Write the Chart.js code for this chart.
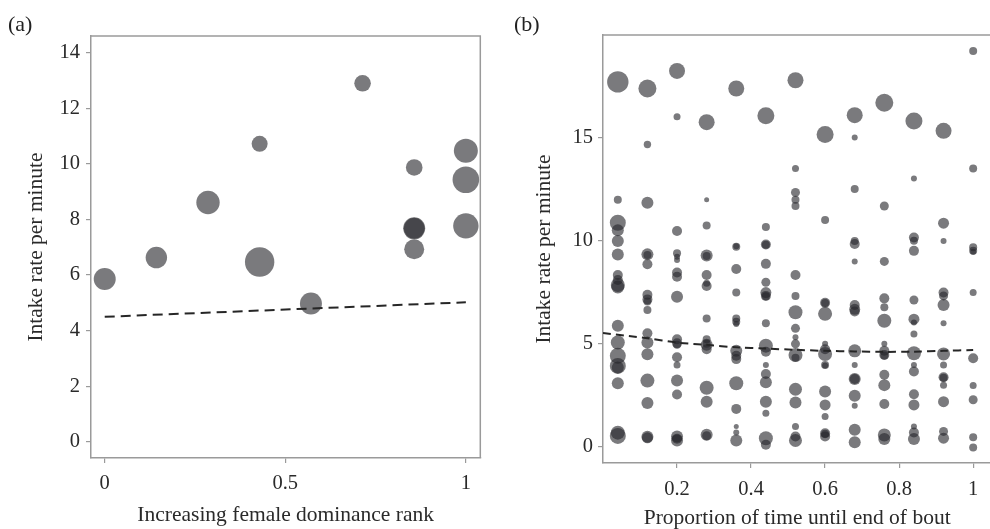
<!DOCTYPE html>
<html>
<head>
<meta charset="utf-8">
<script src="https://cdn.jsdelivr.net/npm/chart.js@4.4.0/dist/chart.umd.min.js"></script>
<style>
    body { margin: 0; background: #fff; width: 990px; height: 529px; position: relative; overflow: hidden; font-family: "Liberation Serif", serif; }
    .panel { position: absolute; top: 0; width: 495px; height: 529px; }
    .tag { position: absolute; font-size: 22px; color: #222; line-height: 1; }
</style>
</head>
<body>
<div class="panel" style="left:0"><canvas id="chartA"></canvas></div>
<div class="panel" style="left:495px;width:507px"><canvas id="chartB"></canvas></div>
<div class="tag" style="left:8px;top:13px">(a)</div>
<div class="tag" style="left:514px;top:13px">(b)</div>
<script>
// ---- panel (a): intake rate vs female dominance rank ----
const aRank = [0, 0.143, 0.286, 0.429, 0.429, 0.571, 0.714, 0.857, 0.857, 0.857, 0.857, 1, 1, 1];
const aRate = [5.86, 6.63, 8.61, 10.72, 6.47, 4.98, 12.9, 9.87, 7.68, 7.68, 6.93, 10.47, 9.43, 7.77];
const aSize = [11, 10.7, 11.7, 8, 14.7, 11, 8.3, 8.3, 11, 10.5, 10, 12, 13.3, 12.7];
const aTrendX = [0, 1];
const aTrendY = [4.5, 5.02];
const aXTicks = [0, 0.5, 1];
const aYTicks = [0, 2, 4, 6, 8, 10, 12, 14];

// ---- panel (b): intake rate vs proportion of time until end of bout ----
const bTime = [0.04, 0.12, 0.2, 0.28, 0.36, 0.44, 0.52, 0.6, 0.68, 0.76, 0.84, 0.92, 1.0];
const bRate = [
    [17.68, 11.98, 10.86, 10.5, 9.98, 9.32, 8.33, 8.09, 7.85, 7.75, 5.87, 5.06, 4.42, 3.93, 3.85, 3.09, 0.7, 0.54],
    [17.36, 14.65, 11.83, 9.33, 9.3, 8.85, 7.37, 7.15, 7.05, 6.64, 5.51, 5.06, 4.5, 3.22, 2.13, 0.5, 0.45],
    [18.21, 15.99, 10.46, 9.38, 9.22, 9.06, 8.45, 8.25, 7.28, 5.22, 5.03, 4.95, 4.35, 3.98, 3.22, 2.55, 0.51, 0.32, 0.4],
    [15.73, 11.98, 10.73, 9.28, 9.25, 8.33, 7.93, 7.8, 6.23, 5.22, 4.95, 5.0, 4.74, 2.87, 2.2, 0.6, 0.55],
    [17.36, 9.7, 9.72, 8.62, 7.48, 6.23, 6.07, 5.96, 4.66, 4.42, 4.26, 3.09, 1.85, 1.0, 0.71, 0.32],
    [16.04, 10.66, 9.81, 9.79, 8.87, 7.98, 7.48, 7.32, 7.3, 5.99, 4.91, 4.62, 3.98, 3.54, 3.14, 2.2, 1.64, 0.43, 0.11],
    [17.76, 13.49, 12.33, 11.98, 11.67, 8.33, 7.32, 6.53, 5.75, 5.32, 5.0, 4.46, 4.33, 2.8, 2.16, 1.0, 0.51, 0.32],
    [15.13, 10.99, 6.99, 6.97, 6.45, 5.0, 4.74, 4.51, 3.98, 3.95, 2.69, 2.04, 1.48, 0.67, 0.65, 0.51],
    [16.07, 14.99, 12.49, 9.98, 9.83, 8.99, 6.88, 6.67, 6.56, 4.66, 3.98, 3.3, 3.3, 2.49, 2.0, 0.84, 0.24],
    [16.67, 11.67, 8.99, 7.2, 6.77, 6.12, 5.0, 4.66, 4.46, 4.44, 3.5, 3.0, 2.09, 0.59, 0.39],
    [15.79, 13.0, 10.15, 9.99, 9.5, 7.12, 6.19, 6.03, 5.48, 4.54, 3.98, 3.66, 2.56, 2.04, 1.0, 0.71, 0.39],
    [15.31, 10.84, 9.98, 7.48, 7.32, 6.88, 5.99, 4.51, 3.98, 3.38, 3.36, 3.0, 2.2, 0.76, 0.43],
    [19.18, 13.49, 9.67, 9.51, 9.46, 7.48, 4.3, 2.98, 2.29, 0.48, -0.02]
];
const bSize = [
    [10.7, 4, 8, 6, 6, 6, 5, 5, 7, 6.5, 6, 7, 8, 8, 6, 6, 7, 8],
    [9, 3.7, 6, 6, 4, 5, 5, 5, 4, 4, 5, 6, 6, 7, 6, 6, 5.5],
    [8, 3.5, 5, 4, 3, 3, 5, 5, 6, 5, 5, 4, 5, 3.5, 6, 5, 6, 6, 5],
    [8, 2.5, 4, 6, 4, 5, 3.5, 5, 4, 4, 6, 4, 5, 7, 6, 6, 4.5],
    [8, 4, 3, 5, 4, 4, 4, 3, 6, 5, 5, 7, 5, 2.5, 3, 6],
    [8.5, 4, 5, 4, 5, 4.5, 5.5, 5, 4, 4, 7, 5, 3, 5, 6, 6, 3.5, 7, 5],
    [8, 3.5, 4.5, 4, 4, 5, 4, 7, 4.5, 3, 4.5, 7, 4, 6.5, 6, 3.5, 5, 6.5],
    [8.5, 4, 5, 4, 7, 3, 5, 7, 4, 3, 6, 5.5, 3.5, 5, 4, 5],
    [8, 3, 4, 4, 5, 3, 5, 5.5, 5, 6.5, 3, 6, 5, 6, 3, 6, 6],
    [9, 4.5, 4.5, 5, 4, 7, 3, 5, 5, 4, 5, 6, 5, 6.5, 6],
    [8.5, 3, 5, 4, 5, 4.5, 5.5, 3, 3.5, 7, 3, 5, 5, 5.5, 3, 5, 6],
    [8, 5.5, 3, 5, 4.5, 6, 3, 6.5, 3.5, 5, 4, 3.5, 5.5, 4.5, 5.5],
    [4, 4, 4, 4, 3, 3.5, 5, 3.5, 4.5, 4, 4]
];
const bTrendX = [0, 0.12, 0.2, 0.28, 0.36, 0.44, 0.52, 0.6, 0.68, 0.76, 0.84, 0.92, 1];
const bTrendY = [5.52, 5.27, 5.06, 4.95, 4.83, 4.77, 4.71, 4.66, 4.63, 4.61, 4.62, 4.66, 4.7];
const bXTicks = [0.2, 0.4, 0.6, 0.8, 1];
const bYTicks = [0, 5, 10, 15];

const dotColor = 'rgba(37, 37, 42, 0.61)';
const axisGray = '#9a9a9a';
const textColor = '#2a2a2a';
const serif = '"Liberation Serif", "DejaVu Serif", serif';

// draws the frame lines that Chart.js does not give (top, and right when asked)
const framePlugin = {
    id: 'frame',
    afterDatasetsDraw(chart, args, opts) {
        const { ctx, chartArea: a } = chart;
        ctx.save();
        ctx.strokeStyle = axisGray;
        ctx.lineWidth = 1.5;
        ctx.beginPath();
        ctx.moveTo(a.left, a.top);
        ctx.lineTo(a.right, a.top);
        if (opts.right) ctx.lineTo(a.right, a.bottom);
        ctx.stroke();
        ctx.restore();
    }
};

function axis(opts) {
    return {
        type: 'linear',
        min: opts.min,
        max: opts.max,
        afterBuildTicks: s => { s.ticks = opts.ticks.map(v => ({ value: v })); },
        afterFit: s => {
            if (opts.width) s.width = opts.width;
            if (opts.height) s.height = opts.height;
        },
        grid: { drawOnChartArea: false, drawTicks: true, tickLength: 5, color: axisGray, lineWidth: 1.2 },
        border: { color: axisGray, width: 1.5 },
        ticks: { color: textColor, font: { family: serif, size: 20.5 }, padding: opts.tickPad, callback: v => String(v) },
        title: { display: true, text: opts.title, color: textColor, font: { family: serif, size: 21.5, lineHeight: 1 }, padding: opts.titlePad }
    };
}

const commonOpts = {
    responsive: true,
    maintainAspectRatio: false,
    animation: false,
    plugins: { legend: { display: false }, tooltip: { enabled: false } }
};

// panel (a)
new Chart(document.getElementById('chartA'), {
    type: 'bubble',
    data: {
        datasets: [
            {
                type: 'line',
                data: aTrendX.map((x, i) => ({ x: x, y: aTrendY[i] })),
                borderColor: '#262626',
                borderWidth: 2,
                borderDash: [10, 6],
                pointRadius: 0,
                fill: false,
                order: 0
            },
            {
                data: aRank.map((x, i) => ({ x: x, y: aRate[i], r: aSize[i] })),
                backgroundColor: dotColor,
                borderWidth: 0,
                hoverBorderWidth: 0,
                order: 1
            }
        ]
    },
    options: Object.assign({}, commonOpts, {
        layout: { padding: { top: 36, right: 12, left: 0, bottom: 0 } },
        plugins: Object.assign({}, commonOpts.plugins, { frame: { right: true } }),
        scales: {
            x: axis({ min: -0.038, max: 1.04, ticks: aXTicks, height: 71, tickPad: 8, title: 'Increasing female dominance rank', titlePad: { top: 0, bottom: 3 } }),
            y: axis({ min: -0.58, max: 14.6, ticks: aYTicks, width: 91, tickPad: 6, title: 'Intake rate per minute', titlePad: { top: 26, bottom: 0 } })
        }
    }),
    plugins: [framePlugin]
});

// panel (b) - its plot runs past the right edge of the page, as in the source figure
const bPoints = [];
bTime.forEach((x, c) => {
    bRate[c].forEach((y, k) => bPoints.push({ x: x, y: y, r: bSize[c][k] }));
});

new Chart(document.getElementById('chartB'), {
    type: 'bubble',
    data: {
        datasets: [
            {
                type: 'line',
                data: bTrendX.map((x, i) => ({ x: x, y: bTrendY[i] })),
                borderColor: '#262626',
                borderWidth: 2,
                borderDash: [8, 5],
                tension: 0.3,
                pointRadius: 0,
                fill: false,
                order: 0
            },
            {
                data: bPoints,
                backgroundColor: dotColor,
                borderWidth: 0,
                hoverBorderWidth: 0,
                order: 1
            }
        ]
    },
    options: Object.assign({}, commonOpts, {
        layout: { padding: { top: 35, right: 0, left: 0, bottom: 0 } },
        plugins: Object.assign({}, commonOpts.plugins, { frame: { right: false } }),
        scales: {
            x: axis({ min: 0, max: 1.049, ticks: bXTicks, height: 66, tickPad: 9, title: 'Proportion of time until end of bout', titlePad: { top: 0, bottom: 0 } }),
            y: axis({ min: -0.77, max: 19.95, ticks: bYTicks, width: 108, tickPad: 5, title: 'Intake rate per minute', titlePad: { top: 39, bottom: 0 } })
        }
    }),
    plugins: [framePlugin]
});
</script>
</body>
</html>
